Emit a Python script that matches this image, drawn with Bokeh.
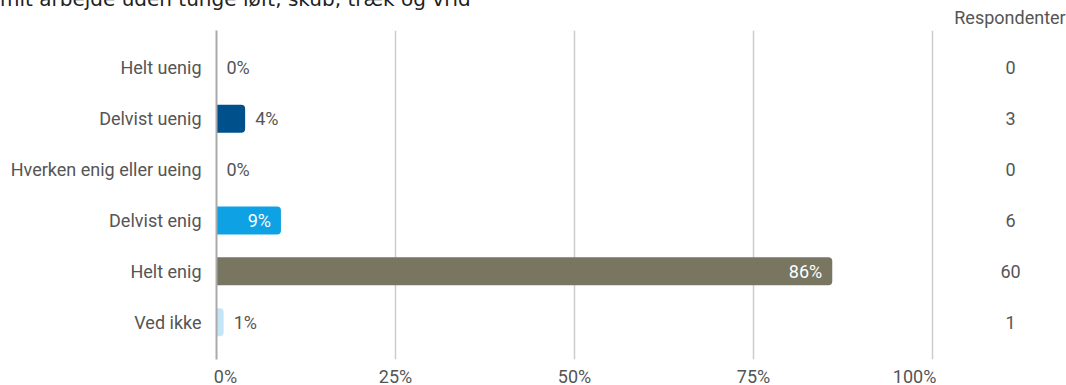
from bokeh.plotting import figure
from bokeh.models import ColumnDataSource, FactorRange, Range1d, FixedTicker, Div
from bokeh.layouts import column
from bokeh.core.properties import value
from bokeh.embed import file_html
from bokeh.resources import INLINE

# ---- data ----
categories = ["Helt uenig", "Delvist uenig", "Hverken enig eller ueing",
              "Delvist enig", "Helt enig", "Ved ikke"]
percent = [0, 4, 0, 9, 86, 1]
respondents = [0, 3, 0, 6, 60, 1]
bar_colors = ["#0b2e4f", "#00508c", "#8c8c8c", "#0ea1e3", "#787560", "#c4e5f7"]
x_ticks = [0, 25, 50, 75, 100]
x_tick_labels = ["0%", "25%", "50%", "75%", "100%"]
title_text = "mit arbejde uden tunge løft, skub, træk og vrid"
column_header = "Respondenter"

# ---- layout constants ----
W = 1066
HEAD = 30            # strip above the plot frame
PLOT_H = 359
LEFT = 216
PX_PER_PCT = 7.16
x_end = (W - LEFT) / PX_PER_PCT
count_x = (1010 - LEFT) / PX_PER_PCT
FONT = "Roboto"
FS = "18px"
GRAY = "#555555"
NB = "\u00a0"

# header strip (title partly above the visible page, column header on the right)
head_html = (
    f'<div style="position:absolute;left:0px;top:-13px;white-space:nowrap;'
    f'font-family:\'DejaVu Sans\';font-size:20px;line-height:24px;color:#222222">{title_text}</div>'
    f'<div style="position:absolute;left:950px;width:120px;top:8px;text-align:center;white-space:nowrap;'
    f'font-family:Roboto;font-size:18px;line-height:20px;color:{GRAY}">{column_header}</div>'
)
head = Div(text=head_html, width=W, height=HEAD, margin=0,
           styles={"overflow": "hidden", "position": "relative"})

y_range = FactorRange(factors=list(reversed(categories)),
                      range_padding=0.078, range_padding_units="percent")

p = figure(width=W, height=PLOT_H, output_backend="svg", toolbar_location=None,
           x_range=Range1d(0, x_end), y_range=y_range,
           min_border_left=LEFT, min_border_top=0,
           min_border_bottom=0, min_border_right=0, margin=0)
p.outline_line_color = None
p.background_fill_color = "white"
p.border_fill_color = "white"

# bars
src = ColumnDataSource(dict(cat=categories, pct=percent, color=bar_colors))
p.hbar(y="cat", left=0, right="pct", height=0.55, source=src,
       fill_color="color", line_color=None, border_radius=(0, 4, 4, 0))

# bar labels
out_idx = [i for i, v in enumerate(percent) if v < 5]
in_idx = [i for i, v in enumerate(percent) if v >= 5]
out_src = ColumnDataSource(dict(cat=[categories[i] for i in out_idx],
                                pct=[percent[i] for i in out_idx],
                                txt=[f"{percent[i]}%" for i in out_idx]))
in_src = ColumnDataSource(dict(cat=[categories[i] for i in in_idx],
                               pct=[percent[i] for i in in_idx],
                               txt=[f"{percent[i]}%" for i in in_idx]))
p.text(x="pct", y="cat", text="txt", source=out_src, x_offset=10,
       text_align="left", text_baseline="middle", text_color=GRAY,
       text_font=value(FONT), text_font_size=FS)
p.text(x="pct", y="cat", text="txt", source=in_src, x_offset=-10,
       text_align="right", text_baseline="middle", text_color="white",
       text_font=value(FONT), text_font_size=FS)

# respondent counts column
cnt_src = ColumnDataSource(dict(cat=categories, txt=[str(v) for v in respondents]))
p.text(x=count_x, y="cat", text="txt", source=cnt_src,
       text_align="center", text_baseline="middle", text_color=GRAY,
       text_font=value(FONT), text_font_size=FS)

# axes
shown = list(x_tick_labels)
shown[0] = NB * 4 + shown[0]
shown[-1] = shown[-1] + NB * 8
p.xaxis.ticker = FixedTicker(ticks=x_ticks)
p.xaxis.major_label_overrides = {t: l for t, l in zip(x_ticks, shown)}
p.xaxis.axis_line_color = None
p.xaxis.major_tick_line_color = None
p.xaxis.minor_tick_line_color = None
p.xaxis.major_tick_out = 0
p.xaxis.major_tick_in = 0
p.xaxis.major_label_standoff = 6
p.xaxis.major_label_text_font = FONT
p.xaxis.major_label_text_font_size = FS
p.xaxis.major_label_text_color = GRAY

p.yaxis.axis_line_color = "#aaaaaa"
p.yaxis.axis_line_width = 2
p.yaxis.major_tick_line_color = None
p.yaxis.minor_tick_line_color = None
p.yaxis.major_tick_out = 0
p.yaxis.major_tick_in = 0
p.yaxis.major_label_standoff = 15
p.yaxis.major_label_text_font = FONT
p.yaxis.major_label_text_font_size = FS
p.yaxis.major_label_text_color = GRAY

p.xgrid.ticker = FixedTicker(ticks=x_ticks[1:])
p.xgrid.grid_line_color = "#cccccc"
p.xgrid.grid_line_width = 1.5
p.ygrid.grid_line_color = None

layout = column(head, p, spacing=0, margin=0)

html = file_html(layout, INLINE)
html = html.replace("</head>", "<style>body{margin:0;overflow:hidden;}</style></head>", 1)
open("out.html", "w").write(html)
